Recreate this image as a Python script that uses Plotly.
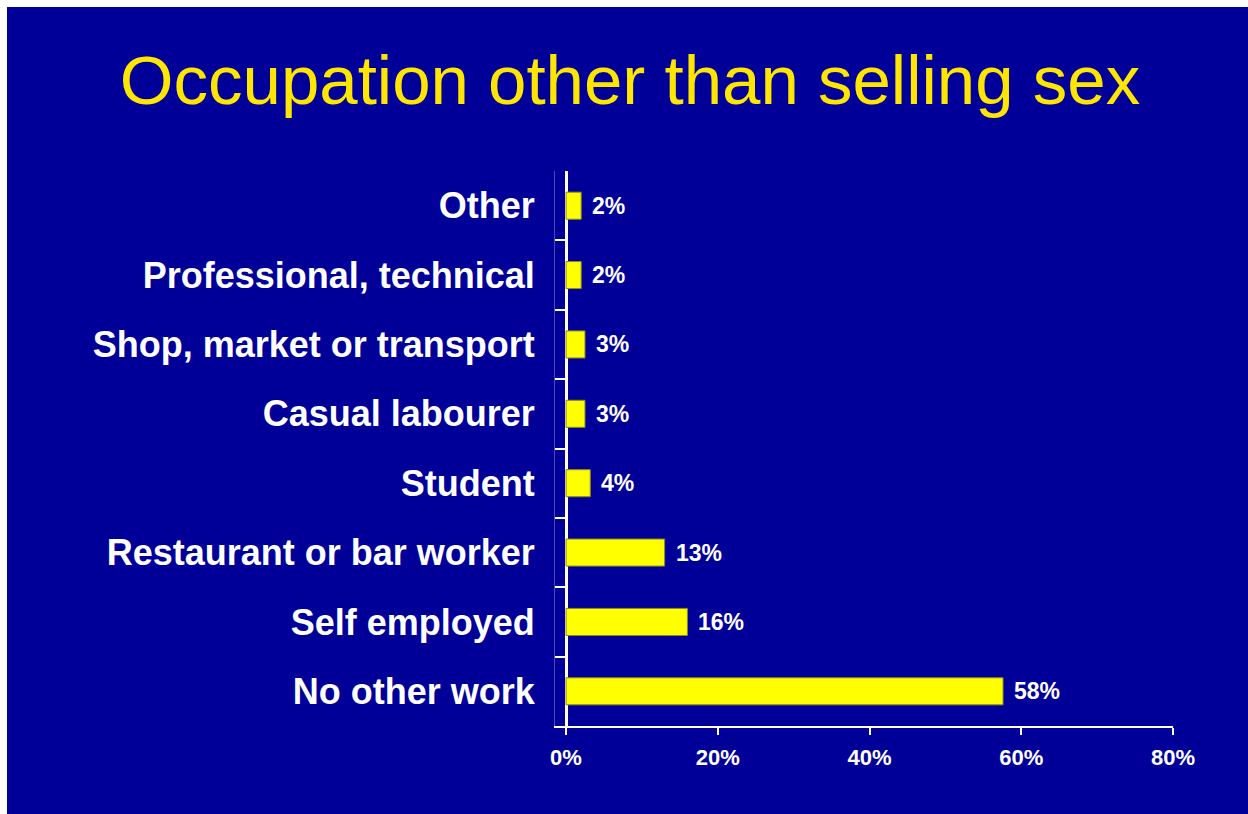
import plotly.graph_objects as go

categories = ["No other work", "Self employed", "Restaurant or bar worker", "Student",
              "Casual labourer", "Shop, market or transport", "Professional, technical", "Other"]
values = [57.6, 16, 13, 3.2, 2.5, 2.5, 2, 2]
value_labels = ["58%", "16%", "13%", "4%", "3%", "3%", "2%", "2%"]
x_tickvals = [0, 20, 40, 60, 80]
x_ticktext = ["0%", "20%", "40%", "60%", "80%"]
title_text = "Occupation other than selling sex"

BLUE = "#000099"
W, H = 1248, 814
L, R, T, B = 555, 75, 171, 88
PW, PH = W - L - R, H - T - B

fig = go.Figure()
fig.add_trace(go.Bar(
    x=values, y=categories, orientation="h",
    width=0.39,
    marker=dict(color="#FFFF00", line=dict(color="#8a8a20", width=1)),
    hoverinfo="skip",
))

for v, c, t in zip(values, categories, value_labels):
    fig.add_annotation(x=v, y=c, xref="x", yref="y", text=t, showarrow=False,
                       xanchor="left", yanchor="middle", xshift=9,
                       font=dict(family="Liberation Sans", size=23, color="white", weight="bold"))

# white strips along the top and left edges of the slide
fig.add_shape(type="rect", xref="paper", yref="paper", layer="below",
              x0=-L / PW - 0.05, x1=(W - L) / PW + 0.05,
              y0=1 + (T - 7) / PH, y1=1 + T / PH + 0.05,
              fillcolor="white", line=dict(width=0))
fig.add_shape(type="rect", xref="paper", yref="paper", layer="below",
              x0=-L / PW - 0.05, x1=(7 - L) / PW,
              y0=-B / PH - 0.05, y1=1 + T / PH + 0.05,
              fillcolor="white", line=dict(width=0))

fig.update_layout(
    width=W, height=H,
    margin=dict(l=L, r=R, t=T, b=B, pad=0),
    paper_bgcolor=BLUE,
    plot_bgcolor=BLUE,
    showlegend=False,
    title=dict(text=title_text, x=630 / W, xanchor="center", xref="container",
               y=1 - 80 / H, yref="container", yanchor="middle",
               font=dict(family="Liberation Sans", size=69, color="#FFE600")),
    xaxis=dict(range=[-11 / 7.5875, 80], tickvals=x_tickvals, ticktext=x_ticktext,
               showgrid=False, zeroline=True, zerolinecolor="white", zerolinewidth=3,
               showline=True, linecolor="white", linewidth=2,
               ticks="outside", ticklen=7, tickwidth=2, tickcolor="white",
               ticklabelstandoff=4,
               tickfont=dict(family="Liberation Sans", size=22, color="white", weight="bold")),
    yaxis=dict(categoryorder="array", categoryarray=categories,
               showgrid=False, zeroline=False,
               showline=True, linecolor="#4a4ab0", linewidth=1,
               ticks="inside", tickson="boundaries", ticklen=11, tickwidth=2, tickcolor="white",
               ticklabelstandoff=12,
               tickfont=dict(family="Liberation Sans", size=36, color="white", weight="bold")),
)

fig.write_html("out.html", config={"displayModeBar": False},
               post_script="document.body.style.margin='0';")
